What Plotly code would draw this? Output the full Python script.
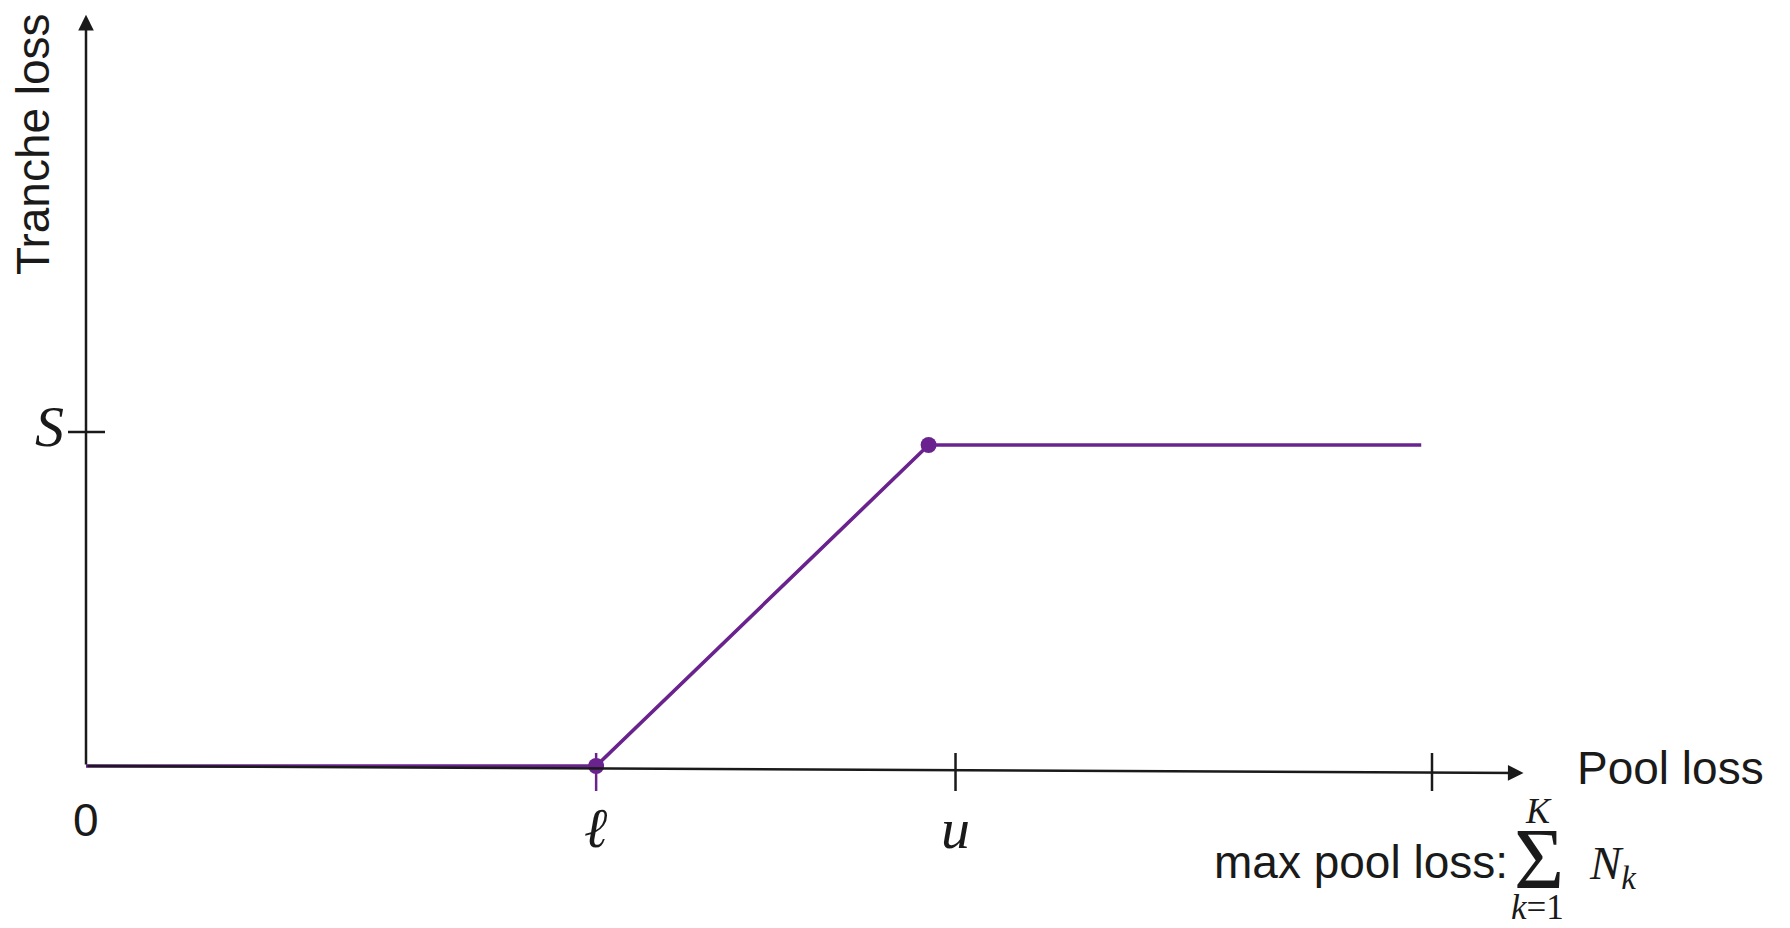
import plotly.graph_objects as go

# ---------------- data (abstract units: max pool loss = 100, S = 100) ----------------
pool_loss_x = [0, 37.9, 62.6, 99.2]        # kink points of tranche loss curve (x)
tranche_loss_y = [0, 0, 96.1, 96.1]        # tranche loss values (y)
marker_x = [37.9, 62.6]
marker_y = [0, 96.1]
x_tick_vals = [37.9, 64.6, 100.0]          # ℓ, u, max pool loss
x_tick_labels = ["\u2113", "u", ""]
x_tick_colors = ["#6a238e", "#1a1a1a", "#1a1a1a"]
y_tick_vals = [100.0]                       # S
y_tick_labels = ["S"]
x_axis_end = [106.8, -2.1]
y_axis_end = [0, 224.9]

PURPLE = "#6a238e"
INK = "#1a1a1a"
W, H = 1790, 928
SANS = "Liberation Sans, Arial, Helvetica, sans-serif"
SERIF = "Liberation Serif, Times New Roman, DejaVu Serif, serif"

# pixel mapping of ranges
px_per_x = 13.46
px_per_y = 3.34
x0_px, y0_px = 86, 766
xrange = [-x0_px / px_per_x, (W - x0_px) / px_per_x]
yrange = [-(H - y0_px) / px_per_y, y0_px / px_per_y]

fig = go.Figure()

fig.add_trace(go.Scatter(x=pool_loss_x, y=tranche_loss_y, mode="lines",
                         line=dict(color=PURPLE, width=3.6), hoverinfo="skip"))
fig.add_trace(go.Scatter(x=marker_x, y=marker_y, mode="markers",
                         marker=dict(color=PURPLE, size=16), hoverinfo="skip"))

shapes = []
for v, c in zip(x_tick_vals, x_tick_colors):
    shapes.append(dict(type="line", xref="x", yref="y", ysizemode="pixel", yanchor=0,
                       x0=v, x1=v, y0=-25, y1=13, line=dict(color=c, width=2.5)))
for v in y_tick_vals:
    shapes.append(dict(type="line", xref="x", yref="y", xsizemode="pixel", xanchor=0,
                       x0=-18, x1=19, y0=v, y1=v, line=dict(color=INK, width=2.5)))

annotations = []
# axes with arrow heads
annotations.append(dict(x=x_axis_end[0], y=x_axis_end[1], ax=0, ay=0, xref="x", yref="y",
                        axref="x", ayref="y", text="", showarrow=True, arrowhead=2,
                        arrowsize=1.25, arrowwidth=2.5, arrowcolor=INK, standoff=0))
annotations.append(dict(x=y_axis_end[0], y=y_axis_end[1], ax=0, ay=0, xref="x", yref="y",
                        axref="x", ayref="y", text="", showarrow=True, arrowhead=2,
                        arrowsize=1.25, arrowwidth=2.5, arrowcolor=INK, standoff=0))


def label(text, x, y, size, family, xanchor="center", yanchor="middle", **kw):
    d = dict(x=x, y=y, text=text, showarrow=False, xanchor=xanchor, yanchor=yanchor,
             font=dict(family=family, size=size, color=INK))
    d.update(kw)
    annotations.append(d)


# tick labels
label("0", 0, 0, 46, SANS, xref="x", yref="y", yshift=-54)
label("<i>" + x_tick_labels[0] + "</i>", x_tick_vals[0], 0, 56, SERIF, xref="x", yref="y", yshift=-62)
label("<i>" + x_tick_labels[1] + "</i>", x_tick_vals[1], 0, 58, SERIF, xref="x", yref="y", yshift=-62)
label("<i>" + y_tick_labels[0] + "</i>", 0, y_tick_vals[0], 58, SERIF, xref="x", yref="y",
      xshift=-37, yshift=6)

# axis titles
label("Tranche loss", 33 / W, 1 - 144 / H, 46, SANS, xref="paper", yref="paper", textangle=-90)
label("Pool loss", 1575 / W, 1 - 768 / H, 46, SANS, xanchor="left", xref="paper", yref="paper")

# max pool loss formula
label("max pool loss:", 1510 / W, 1 - 862 / H, 46, SANS, xanchor="right", xref="paper", yref="paper")
label("\u03a3", 1539 / W, 1 - 859 / H, 86, SERIF, xref="paper", yref="paper", borderpad=0)
label("<i>K</i>", 1538 / W, 1 - 811 / H, 36, SERIF, xref="paper", yref="paper", borderpad=0)
label("<i>k</i>=1", 1537 / W, 1 - 907 / H, 35, SERIF, xref="paper", yref="paper", borderpad=0)
label("<i>N</i><sub><i>k</i></sub>", 1587 / W, 1 - 866 / H, 47, SERIF, xanchor="left",
      xref="paper", yref="paper")

fig.update_layout(
    width=W, height=H, margin=dict(l=0, r=0, t=0, b=0),
    paper_bgcolor="white", plot_bgcolor="white", showlegend=False,
    xaxis=dict(range=xrange, visible=False, fixedrange=True),
    yaxis=dict(range=yrange, visible=False, fixedrange=True),
    shapes=shapes, annotations=annotations,
)

fig.write_html("out.html", config={"displayModeBar": False},
               post_script="document.body.style.margin='0px';")
